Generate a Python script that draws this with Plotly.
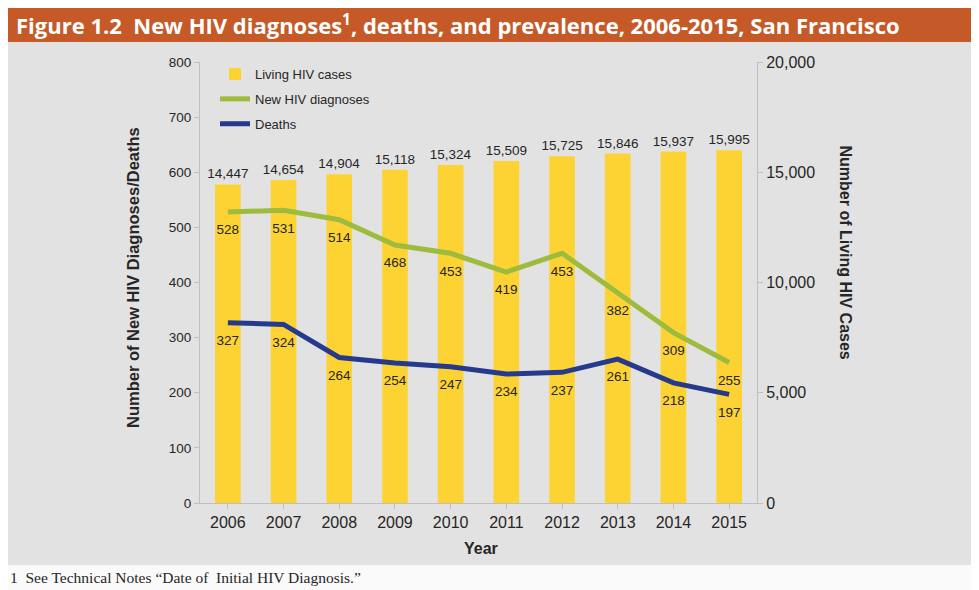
import plotly.graph_objects as go

years = ["2006", "2007", "2008", "2009", "2010", "2011", "2012", "2013", "2014", "2015"]
living_cases = [14447, 14654, 14904, 15118, 15324, 15509, 15725, 15846, 15937, 15995]
new_diagnoses = [528, 531, 514, 468, 453, 419, 453, 382, 309, 255]
deaths = [327, 324, 264, 254, 247, 234, 237, 261, 218, 197]

# page is rendered with an 8px body margin; work in page pixel coordinates
OFF = 8
PW, PH = 979, 590
W, H = PW - OFF, PH - OFF
L, R, T, B = 200, 757, 62, 503
pw, ph = R - L, B - T

def px(x):
    return (x - L) / pw

def py(y):
    return (B - y) / ph

TXT = "#262626"
FONT = "Liberation Sans"

fig = go.Figure()

fig.add_trace(go.Bar(
    x=years, y=living_cases, name="Living HIV cases", yaxis="y",
    legendgroup="a",
    marker=dict(color="#FDD333", line=dict(width=0)),
    text=[f"{v:,}" for v in living_cases], textposition="outside",
    constraintext="none",
    textfont=dict(size=13.5, color=TXT, family=FONT),
    cliponaxis=False,
))
fig.add_trace(go.Scatter(
    x=years, y=new_diagnoses, name="New HIV diagnoses", mode="lines+markers+text", yaxis="y2",
    legendgroup="b",
    line=dict(color="#9DBB3C", width=5),
    marker=dict(size=18, color="rgba(0,0,0,0)"),
    text=[str(v) for v in new_diagnoses], textposition="bottom center",
    textfont=dict(size=13.5, color=TXT, family=FONT), cliponaxis=False,
))
fig.add_trace(go.Scatter(
    x=years, y=deaths, name="Deaths", mode="lines+markers+text", yaxis="y2",
    legendgroup="c",
    line=dict(color="#253A8C", width=5),
    marker=dict(size=18, color="rgba(0,0,0,0)"),
    text=[str(v) for v in deaths], textposition="bottom center",
    textfont=dict(size=13.5, color=TXT, family=FONT), cliponaxis=False,
))

shapes = [
    dict(type="rect", xref="paper", yref="paper", layer="below",
         x0=px(0), x1=px(PW + 5), y0=py(PH + 5), y1=py(0),
         fillcolor="white", line=dict(width=0)),
    dict(type="rect", xref="paper", yref="paper", layer="below",
         x0=px(7), x1=px(PW + 5), y0=py(565), y1=py(42),
         fillcolor="#E2E2E2", line=dict(width=0)),
    dict(type="rect", xref="paper", yref="paper", layer="below",
         x0=px(7), x1=px(PW + 5), y0=py(42), y1=py(8),
         fillcolor="#C55A28", line=dict(width=0)),
    dict(type="rect", xref="paper", yref="paper", layer="below",
         x0=px(0), x1=px(PW + 5), y0=py(PH + 5), y1=py(565),
         fillcolor="#FAFAFA", line=dict(width=0)),
]

annotations = [
    dict(text="<b>Figure 1.2  New HIV diagnoses<sup>1</sup>, deaths, and prevalence, 2006-2015, San Francisco</b>",
         xref="paper", yref="paper", x=px(14), y=py(25), xanchor="left", yanchor="middle",
         showarrow=False, font=dict(size=22, color="white", family="Open Sans")),
    dict(text="<b>Number of New HIV Diagnoses/Deaths</b>", xref="paper", yref="paper",
         x=px(122), y=py(278), textangle=-90, showarrow=False,
         font=dict(size=16.5, color=TXT, family=FONT)),
    dict(text="<b>Number of Living HIV Cases</b>", xref="paper", yref="paper",
         x=px(855), y=py(252), textangle=90, showarrow=False,
         font=dict(size=16, color=TXT, family=FONT)),
    dict(text="<b>Year</b>", xref="paper", yref="paper",
         x=px(481), y=py(548), showarrow=False, yanchor="middle",
         font=dict(size=16, color=TXT, family=FONT)),
    dict(text="1  See Technical Notes \u201cDate of  Initial HIV Diagnosis.\u201d", xref="paper", yref="paper",
         x=px(8), y=py(577), xanchor="left", yanchor="middle", showarrow=False,
         font=dict(size=15.5, color=TXT, family="Liberation Serif")),
]

fig.update_layout(
    width=W, height=H,
    margin=dict(l=L - OFF, r=PW - R, t=T - OFF, b=PH - B),
    paper_bgcolor="white", plot_bgcolor="rgba(0,0,0,0)",
    bargap=0.54,
    showlegend=True,
    legend=dict(x=px(215), y=py(59), xanchor="left", yanchor="top",
                bgcolor="rgba(0,0,0,0)", traceorder="grouped", tracegroupgap=5,
                font=dict(size=13, color=TXT, family=FONT),
                itemwidth=30),
    xaxis=dict(range=[-0.5, len(years) - 0.5], showline=True, linecolor="#BFBFBF",
               ticks="outside", tickcolor="#BFBFBF",
               ticklen=5, tickfont=dict(size=16, color=TXT, family=FONT),
               showgrid=False, fixedrange=True),
    yaxis=dict(range=[0, 20000], dtick=5000, side="right", showline=True,
               linecolor="#BFBFBF", ticks="outside", tickcolor="#BFBFBF", ticklen=5,
               showgrid=False, zeroline=False, tickformat=",",
               tickfont=dict(size=16, color=TXT, family=FONT)),
    yaxis2=dict(range=[0, 800], dtick=100, side="left", overlaying="y", showline=True,
                linecolor="#BFBFBF", ticks="outside", tickcolor="#BFBFBF", ticklen=5,
                showgrid=False, zeroline=False,
                tickfont=dict(size=13.5, color=TXT, family=FONT)),
    shapes=shapes, annotations=annotations,
)

fig.write_html("out.html")
